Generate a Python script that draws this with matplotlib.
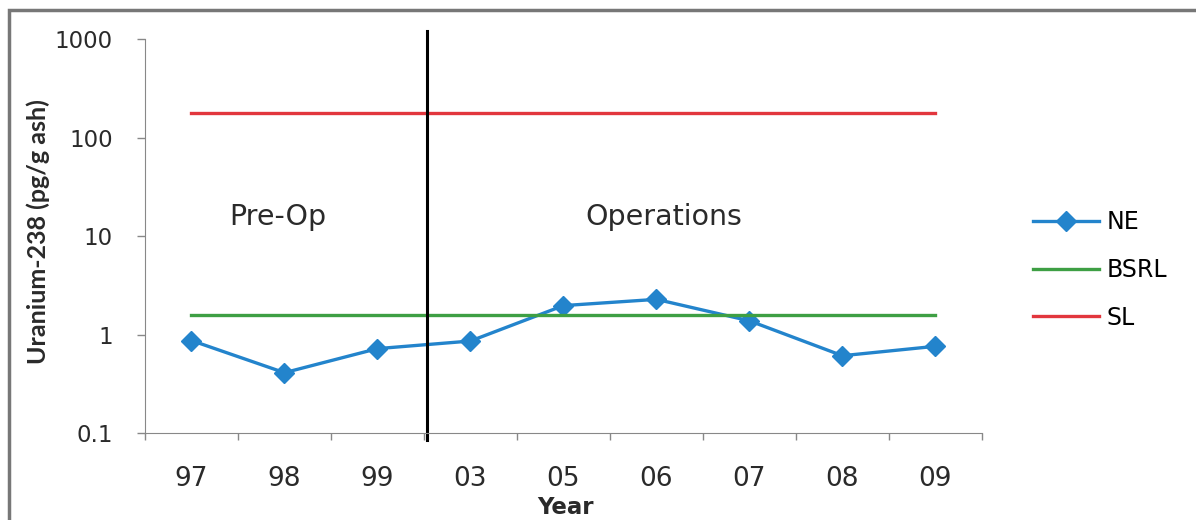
import matplotlib.pyplot as plt
from matplotlib.patches import Rectangle

years = ["97", "98", "99", "03", "05", "06", "07", "08", "09"]
ne = [0.87, 0.41, 0.72, 0.86, 1.97, 2.28, 1.38, 0.61, 0.76]
bsrl = [1.58] * len(years)
sl = [180] * len(years)

plt.rcParams['font.family'] = ['DejaVu Sans']
ink = "#2a2a2a"

fig = plt.figure(figsize=(11.96, 5.2), dpi=100)
ax = fig.add_axes([0.1212, 0.1673, 0.6998, 0.7571])

x = list(range(len(years)))
ax.plot(x, ne, color="#2384cc", lw=2.4, marker="D", ms=10, label="NE")
ax.plot(x, bsrl, color="#3e9f44", lw=2.4, label="BSRL")
ax.plot(x, sl, color="#e2363d", lw=2.4, label="SL")

# pre-op / operations divider
ax.plot([2.53, 2.53], [1.02, -0.018], color="black", lw=2.2,
        transform=ax.get_xaxis_transform(), clip_on=False)

ax.text(0.925, 13, "Pre-Op", fontsize=20.5, ha="center", va="baseline", color=ink)
ax.text(5.08, 13, "Operations", fontsize=20.5, ha="center", va="baseline", color=ink)

ax.set_yscale("log")
ax.set_ylim(0.1, 1000)
ax.set_xlim(-0.5, len(years) - 0.5)
ax.set_yticks([0.1, 1, 10, 100, 1000])
ax.set_yticklabels(["0.1", "1", "10", "100", "1000"])
ax.yaxis.set_minor_locator(plt.NullLocator())

# ticks between categories, labels at category centres
ax.set_xticks([i - 0.5 for i in range(len(years) + 1)])
ax.set_xticklabels([])
ax.set_xticks(x, minor=True)
ax.set_xticklabels(years, minor=True)
ax.tick_params(axis="x", which="minor", length=0, labelsize=19,
               labelcolor=ink, pad=24)

ax.tick_params(axis="y", length=6, width=1, color="#888888", labelsize=16.5,
               labelcolor=ink, pad=17)
ax.tick_params(axis="x", which="major", length=5, width=1, color="#888888")
for side in ["top", "right"]:
    ax.spines[side].set_visible(False)
for side in ["left", "bottom"]:
    ax.spines[side].set_color("#888888")

fig.text(38 / 1196, 1 - 232 / 520, "Uranium-238 (pg/g ash)", rotation=90,
         fontsize=18, fontweight="bold", family="Lato", color=ink,
         ha="center", va="center")
fig.text(565 / 1196, 1 - 508 / 520, "Year", fontsize=16.5, fontweight="bold",
         ha="center", va="center", color=ink)

ax.legend(loc="center left", bbox_to_anchor=(1.036, 0.414), frameon=False,
          fontsize=17, handlelength=2.8, handletextpad=0.3, labelspacing=1.0)

fig.patches.append(Rectangle((9 / 1196, -0.05), 1.1, 1 - 10 / 520 + 0.05,
                             transform=fig.transFigure, fill=False,
                             edgecolor="#777777", lw=2.5))

fig.savefig("out.png", dpi=100)
